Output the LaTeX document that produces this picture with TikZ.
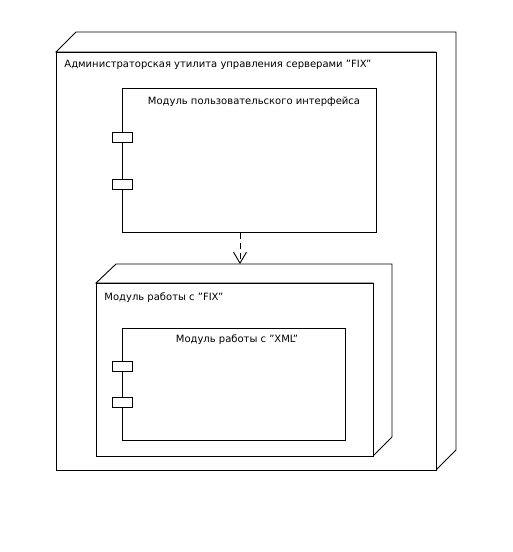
\documentclass[tikz,border=0pt]{standalone}
\usepackage{fontspec}
\setmainfont{DejaVu Sans}[Ligatures=ResetAll]
\usetikzlibrary{arrows.meta}
\begin{document}
\begin{tikzpicture}[x=1pt,y=-1pt,line width=0.9pt,
  lbl/.style={font=\fontsize{10}{12}\selectfont, inner sep=0pt, anchor=west},
  compbox/.style={draw, fill=white, anchor=north west, inner sep=0pt},
  portbox/.style={draw, fill=white, minimum width=20pt, minimum height=10pt, inner sep=0pt, anchor=north west},
  face/.style={draw, fill=white, line join=miter}]
\useasboundingbox[fill=white] (0,0) rectangle (512,552);
% outer node
\draw[face] (56,52) -- (76,32) -- (456,32) -- (456,450) -- (436,470) -- (436,52) -- cycle;
\draw[face] (56,52) rectangle (436,470);
\node[lbl] (outerlbl) at (64,65) {Администраторская утилита управления серверами "FIX"};
% component 1
\node[compbox, minimum width=254pt, minimum height=144pt] (comp1) at (122,88) {};
\node[lbl, anchor=center] (comp1lbl) at (254,102) {Модуль пользовательского интерфейса};
\node[portbox] (p1a) at (112,132) {};
\node[portbox] (p1b) at (112,179) {};
% inner node
\draw[face] (96,283) -- (116,264) -- (392,264) -- (392,437) -- (373,456) -- (373,283) -- cycle;
\draw[face] (96,283) rectangle (373,456);
\coordinate (n2top) at (240,264);
\node[lbl] (n2lbl) at (104,298) {Модуль работы с "FIX"};
% component 2
\node[compbox, minimum width=223pt, minimum height=112pt] (comp2) at (122,328) {};
\node[lbl, anchor=center] (comp2lbl) at (237,340) {Модуль работы с "XML"};
\node[portbox] (p2a) at (112,361) {};
\node[portbox] (p2b) at (112,397) {};
% dependency
\draw[dashed, dash pattern=on 6pt off 4pt, -{Straight Barb[length=11pt,width=13pt,line width=0.9pt]}] (comp1.south -| n2top) -- (n2top);
\end{tikzpicture}
\end{document}
